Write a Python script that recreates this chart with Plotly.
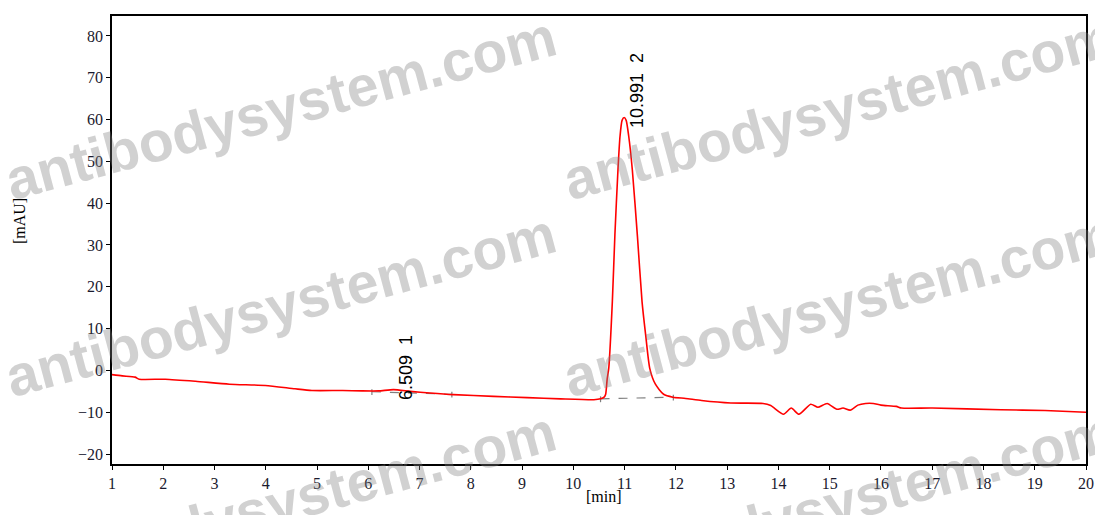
import plotly.graph_objects as go

# ---- data ----
time_min = [1.0, 1.2, 1.45, 1.53, 2.04, 2.63, 3.29, 3.99, 4.57, 4.9, 5.5, 5.88, 6.2, 6.49,
            6.82, 7.2, 7.66, 8.44, 9.1, 9.75, 10.4, 10.53, 10.6, 10.63, 10.66, 10.69, 10.76,
            10.81, 10.87, 10.91, 10.95, 10.99, 11.03, 11.08, 11.15, 11.25, 11.34, 11.41,
            11.49, 11.6, 11.76, 11.94, 12.19, 12.5, 13.07, 13.7, 13.85, 14.1, 14.25, 14.4,
            14.63, 14.77, 14.95, 15.14, 15.26, 15.4, 15.55, 15.7, 15.85, 16.0, 16.3, 16.4,
            17.0, 18.34, 19.2, 20.0]
signal_mau = [-1.0, -1.3, -1.6, -2.1, -2.1, -2.6, -3.3, -3.6, -4.4, -4.8, -4.8, -4.9, -4.9, -4.6,
              -5.0, -5.4, -5.8, -6.2, -6.5, -6.8, -7.0, -6.8, -6.4, -5.7, -2.0, 0.5, 16.4,
              32.4, 48.0, 56.0, 59.8, 60.5, 59.8, 56.0, 48.0, 32.0, 16.4, 8.5,
              0.5, -3.3, -5.7, -6.4, -6.7, -7.2, -7.8, -7.9, -8.4, -10.5, -9.0, -10.5,
              -8.1, -8.8, -7.9, -9.3, -9.0, -9.5, -8.3, -7.9, -7.9, -8.3, -8.6, -9.0,
              -9.0, -9.4, -9.6, -10.0]

peak_rt = [6.509, 10.991]
peak_id = ["1", "2"]
peak_label_y = [-7.6, 57.4]

base1_t = [6.07, 7.63]
base1_v = [-5.1, -5.7]
base2_t = [10.53, 11.95]
base2_v = [-6.8, -6.4]

y_ticks = [-20, -10, 0, 10, 20, 30, 40, 50, 60, 70, 80]
x_ticks = list(range(1, 21))

# page body has an 8px default margin; compensate so the plot lands where the reference has it
OFF = 8
W, H = 1103 - OFF, 515 - OFF
L, R, T, B = 112 - OFF, 1086 - OFF, 14 - OFF, 464 - OFF


def px(xp):
    return (xp - OFF - L) / (R - L)


def py(yp):
    return (B - (yp - OFF)) / (B - T)


fig = go.Figure()

# baseline tick marks (short vertical segments at integration limits)
tx, ty = [], []
for ts, vs in ((base1_t, base1_v), (base2_t, base2_v)):
    for t, v in zip(ts, vs):
        tx += [t, t, None]
        ty += [v + 0.6, v - 0.8, None]

fig.add_trace(go.Scatter(x=base1_t, y=base1_v, mode="lines",
                         line=dict(color="#7f7f7f", width=1.2, dash="dash"), hoverinfo="skip"))
fig.add_trace(go.Scatter(x=base2_t, y=base2_v, mode="lines",
                         line=dict(color="#7f7f7f", width=1.2, dash="dash"), hoverinfo="skip"))
fig.add_trace(go.Scatter(x=tx, y=ty, mode="lines",
                         line=dict(color="#7f7f7f", width=1.2), hoverinfo="skip"))
fig.add_trace(go.Scatter(x=time_min, y=signal_mau, mode="lines", line_shape="spline",
                         line=dict(color="#ff0000", width=1.6, smoothing=0.6), hoverinfo="skip"))

# peak labels
shifts = [11, 13]
for rt, pid, ly, sh in zip(peak_rt, peak_id, peak_label_y, shifts):
    fig.add_annotation(x=rt, y=ly, xref="x", yref="y", text=f"{rt:.3f}&nbsp;&nbsp;{pid}",
                       textangle=-90, showarrow=False, xanchor="center", yanchor="bottom",
                       xshift=sh, font=dict(family="Liberation Sans", size=18, color="#000000"))

serif = "Liberation Serif"
fig.add_annotation(x=px(19), y=py(220), xref="paper", yref="paper",
                   text="[mAU]", textangle=-90, showarrow=False, xanchor="center", yanchor="middle",
                   font=dict(family=serif, size=16, color="#000000"))
fig.add_annotation(x=px(604), y=py(497), xref="paper", yref="paper",
                   text="[min]", showarrow=False, xanchor="center", yanchor="middle",
                   font=dict(family=serif, size=16, color="#000000"))

# watermarks
for cx, cy in [(280, 106), (838, 106), (280, 304), (838, 304), (280, 503), (838, 503)]:
    fig.add_annotation(x=px(cx), y=py(cy), xref="paper", yref="paper",
                       text="<b>antibodysystem.com</b>", textangle=-15, showarrow=False,
                       xanchor="center", yanchor="middle",
                       font=dict(family="Liberation Sans", size=57, color="rgba(128,128,128,0.36)"))

fig.update_layout(
    width=W, height=H,
    margin=dict(l=L, r=W - R, t=T, b=H - B, pad=0),
    paper_bgcolor="white", plot_bgcolor="white",
    showlegend=False,
)
fig.update_xaxes(range=[1, 20], tickvals=x_ticks, ticks="outside", ticklen=4, tickwidth=1.2,
                 tickcolor="black", showline=True, linecolor="black", linewidth=1.5, mirror=True,
                 showgrid=False, zeroline=False,
                 tickfont=dict(family=serif, size=16, color="#1a1a2e"))
fig.update_yaxes(range=[-22.38, 84.76], tickvals=y_ticks, ticks="outside", ticklen=4, tickwidth=1.2,
                 tickcolor="black", showline=True, linecolor="black", linewidth=1.5, mirror=True,
                 showgrid=False, zeroline=False,
                 tickfont=dict(family=serif, size=16, color="#1a1a2e"))

fig.write_html("out.html")
